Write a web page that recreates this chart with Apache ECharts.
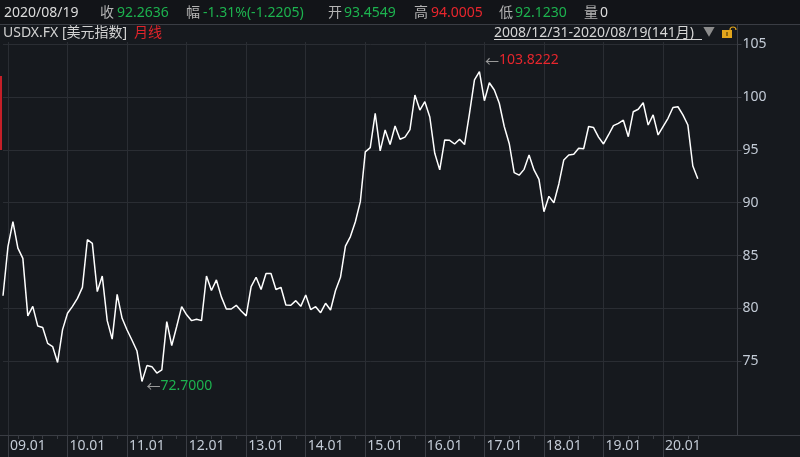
<!DOCTYPE html>
<html><head><meta charset="utf-8">
<script src="https://cdn.jsdelivr.net/npm/echarts@6/dist/echarts.min.js"></script>
<style>html,body{margin:0;padding:0;background:#16191e;}#c{width:800px;height:457px;}</style>
</head><body><div id="c"></div>
<script>
// ---- data ----
const startYear = 2008, startMonth = 12;
const closes = [
 81.2, 85.84, 88.2, 85.7, 84.74, 79.3, 80.2, 78.35, 78.2, 76.7, 76.4, 74.9,
 78.0, 79.55, 80.2, 80.96, 82.0, 86.5, 86.16, 81.6, 83.07, 78.85, 77.1, 81.34,
 79.07, 77.97, 77.0, 75.98, 73.1, 74.6, 74.5, 73.9, 74.2, 78.75, 76.5, 78.3,
 80.17, 79.4, 78.85, 78.98, 78.85, 83.07, 81.7, 82.7, 81.1, 79.95, 79.95, 80.3,
 79.76, 79.3, 82.06, 82.95, 81.8, 83.3, 83.3, 81.8, 82.0, 80.33, 80.3, 80.74,
 80.2, 81.27, 79.9, 80.17, 79.6, 80.49, 79.86, 81.7, 82.95, 85.9, 86.8, 88.2,
 90.1, 94.8, 95.2, 98.45, 94.9, 96.87, 95.5, 97.25, 96.0, 96.2, 96.9, 100.18,
 98.76, 99.55, 98.1, 94.67, 93.1, 95.93, 95.9, 95.55, 96.0, 95.5, 98.45, 101.6,
 102.4, 99.64, 101.34, 100.65, 99.4, 97.2, 95.6, 92.84, 92.6, 93.15, 94.5, 93.1,
 92.2, 89.15, 90.6, 90.0, 91.77, 94.04, 94.5, 94.57, 95.14, 95.1, 97.2, 97.1,
 96.2, 95.55, 96.4, 97.28, 97.5, 97.8, 96.24, 98.6, 98.83, 99.45, 97.34, 98.3,
 96.4, 97.2, 97.98, 99.0, 99.07, 98.3, 97.34, 93.47, 92.2636
];
const padMonths = 8; // empty slots to the right of the last point
const categories = [];
for (let k = 0; k < closes.length + padMonths; k++) {
  const m0 = startMonth - 1 + k;
  const y = startYear + Math.floor(m0 / 12);
  const m = m0 % 12 + 1;
  categories.push(String(y % 100).padStart(2, '0') + '.' + String(m).padStart(2, '0'));
}
const yTicks = [75, 80, 85, 90, 95, 100, 105];
const minorTickMonths = ['03', '06', '08', '11'];
const markMonths = ['17.01', '11.04'];
const markValues = [103.8222, 72.7];
const headerTexts = [
  ['2020/08/19', 'date'], ['收', 'lbl'], ['92.2636', 'down'], ['幅', 'lbl'],
  ['-1.31%(-1.2205)', 'down'], ['开', 'lbl'], ['93.4549', 'down'], ['高', 'lbl'],
  ['94.0005', 'up'], ['低', 'lbl'], ['92.1230', 'down'], ['量', 'lbl'], ['0', 'date']
];
const headerX = [4, 100, 117, 186, 203, 328, 344, 414, 431, 499, 515, 584, 600];
const rangeText = '2008/12/31-2020/08/19(141月)';

// ---- styles ----
const GREEN = '#1db34f', RED = '#e8262d', GRID = '#2a2d33', AXIS = '#3a3d44';
const LATIN = '"Noto Sans", "Noto Sans CJK SC", sans-serif';
const colorMap = {date: '#dcdcdc', lbl: '#b4b4b4', down: GREEN, up: RED};

const chart = echarts.init(document.getElementById('c'), null, {renderer: 'canvas'});

const graphics = [
  {type: 'rect', z: -10, shape: {x: 0, y: 0, width: 800, height: 24}, style: {fill: '#121418'}},
  {type: 'line', shape: {x1: 0, y1: 24.5, x2: 800, y2: 24.5}, style: {stroke: AXIS, lineWidth: 1}},
  {type: 'line', shape: {x1: 0, y1: 435.5, x2: 800, y2: 435.5}, style: {stroke: AXIS, lineWidth: 1}},
  {type: 'line', shape: {x1: 737.5, y1: 25, x2: 737.5, y2: 436}, style: {stroke: AXIS, lineWidth: 1}},
  {type: 'rect', shape: {x: 0, y: 76, width: 2, height: 74}, style: {fill: '#c41f28'}},
  {type: 'text', x: 3, y: 33.5, style: {text: 'USDX.FX [美元指数]', fill: '#d2d2d2', font: '14px ' + LATIN, verticalAlign: 'middle'}},
  {type: 'text', x: 134, y: 33.5, style: {text: '月线', fill: '#e0242b', font: '14px ' + LATIN, verticalAlign: 'middle'}},
  {type: 'text', x: 494, y: 33, style: {text: rangeText, fill: '#d6d6d6', font: '14px ' + LATIN, verticalAlign: 'middle'}},
  {type: 'line', shape: {x1: 494, y1: 39.5, x2: 702, y2: 39.5}, style: {stroke: '#d6d6d6', lineWidth: 1}},
  {type: 'text', x: 703, y: 33, style: {text: '▼', fill: '#8c8c8c', font: '12px ' + LATIN, verticalAlign: 'middle'}},
  {type: 'rect', shape: {x: 722, y: 30, width: 10, height: 8}, style: {fill: '#e2a51c'}},
  {type: 'arc', shape: {cx: 733, cy: 30, r: 3, startAngle: Math.PI, endAngle: 2 * Math.PI}, style: {stroke: '#e2a51c', lineWidth: 1.2, fill: null}},
  {type: 'rect', shape: {x: 726.5, y: 32, width: 1, height: 4}, style: {fill: '#3a2a00'}}
];
headerTexts.forEach((t, i) => {
  graphics.push({type: 'text', x: headerX[i], y: 13, style: {text: t[0], fill: colorMap[t[1]], font: '14px ' + LATIN, verticalAlign: 'middle'}});
});

const isJan = (idx, v) => idx < closes.length && typeof v === 'string' && v.slice(3) === '01';
const isMinor = (idx, v) => idx < closes.length && typeof v === 'string' && minorTickMonths.indexOf(v.slice(3)) >= 0;

chart.setOption({
  animation: false,
  backgroundColor: '#16191e',
  grid: {left: 3, right: 62.5, top: 42, bottom: 22, containLabel: false},
  xAxis: [{
    type: 'category', data: categories, boundaryGap: false,
    axisLine: {show: false},
    axisTick: {show: true, interval: isJan, length: 22, lineStyle: {color: AXIS}},
    axisLabel: {interval: isJan, align: 'left', padding: [0, 0, 0, 2], margin: 4, color: '#c3cbd6', fontSize: 14, fontFamily: LATIN},
    splitLine: {show: true, interval: isJan, lineStyle: {color: GRID, width: 1}}
  }, {
    type: 'category', data: categories, boundaryGap: false, position: 'bottom',
    axisLine: {show: false}, axisLabel: {show: false}, splitLine: {show: false},
    axisTick: {show: true, interval: isMinor, length: 4, lineStyle: {color: AXIS}}
  }],
  yAxis: {
    type: 'value', position: 'right', min: 68.04, max: 105.19, scale: true,
    axisLine: {show: true, lineStyle: {color: AXIS}},
    axisTick: {show: true, customValues: yTicks, length: 4, lineStyle: {color: AXIS}},
    axisLabel: {customValues: yTicks, color: '#c3cbd6', fontSize: 14, fontFamily: LATIN, margin: 5},
    splitLine: {show: true, lineStyle: {color: GRID, width: 1}}
  },
  series: [{
    type: 'line', data: closes, xAxisIndex: 0, showSymbol: false, symbol: 'none',
    lineStyle: {color: '#ffffff', width: 1.5},
    markPoint: {
      symbol: 'circle', symbolSize: 1, itemStyle: {color: 'rgba(0,0,0,0)'},
      data: markMonths.map((m, i) => ({
        coord: [m, markValues[i]], value: markValues[i],
        label: {
          show: true, position: 'right', distance: i === 0 ? 0 : 4, offset: i === 0 ? [0, 4] : [0, 0],
          formatter: '{a|←}{' + (i === 0 ? 'r' : 'g') + '|' + markValues[i].toFixed(4) + '}',
          rich: {
            a: {color: '#9a9a9a', fontSize: 14, fontFamily: '"Noto Sans CJK SC"'},
            r: {color: RED, fontSize: 14, fontFamily: LATIN},
            g: {color: GREEN, fontSize: 14, fontFamily: LATIN}
          }
        }
      }))
    }
  }],
  graphic: graphics
});
</script></body></html>
